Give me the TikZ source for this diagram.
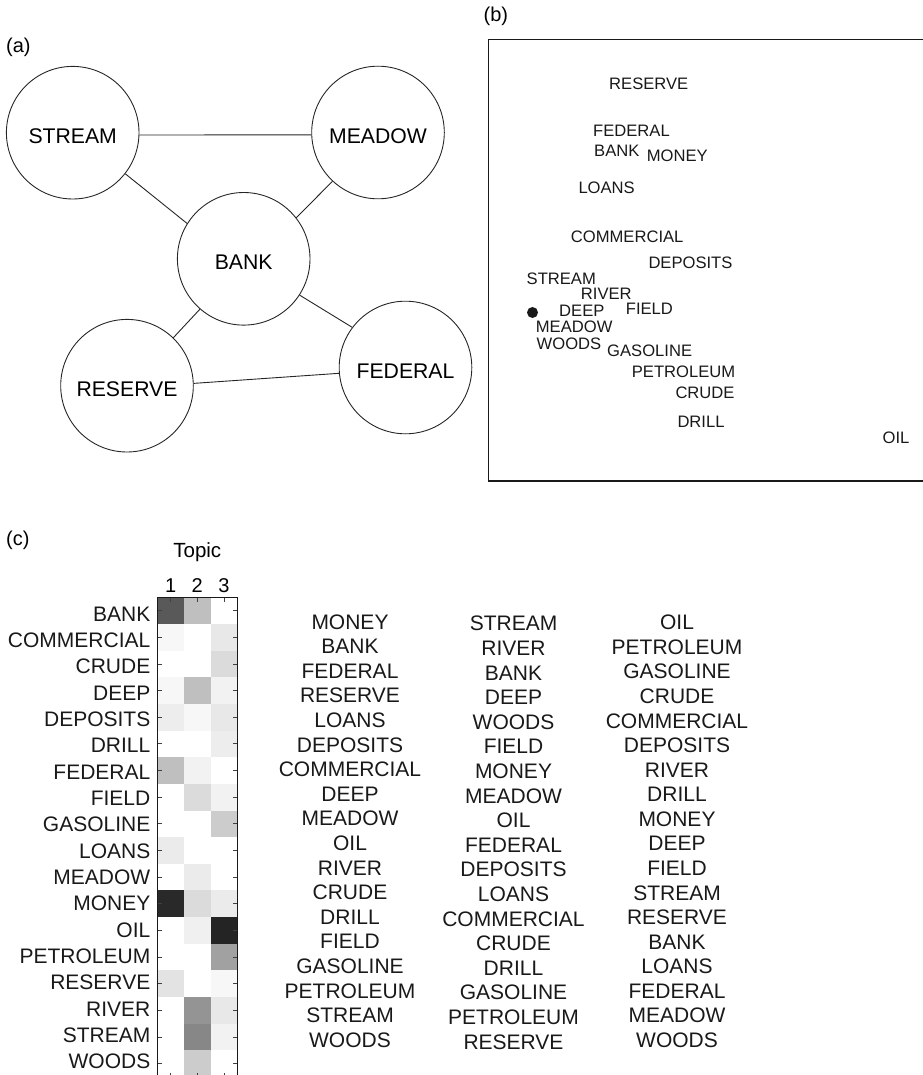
\documentclass[tikz,border=0pt]{standalone}
\usepackage{fontspec}
\setmainfont{Liberation Sans}
\begin{document}
\begin{tikzpicture}[x=1pt,y=-1pt,
  bubble/.style={circle, draw=black!85, line width=0.9pt, minimum size=132.6pt,
    inner sep=0pt, font=\fontsize{21.2}{25}\selectfont, text height=21.8pt, text depth=0pt},
  link/.style={draw=black!85, line width=0.9pt},
  tag/.style={font=\fontsize{20}{24}\selectfont, anchor=base west, inner sep=0pt},
  mapword/.style={font=\fontsize{16.6}{20}\selectfont, anchor=base west, inner sep=0pt, text=black!90},
  rowword/.style={font=\fontsize{21}{25}\selectfont, anchor=base east, inner sep=0pt, text=black!90},
  listword/.style={font=\fontsize{21}{25}\selectfont, anchor=base, inner sep=0pt, text=black!90},
  frame/.style={draw=black!90, line width=1.1pt},
  tick/.style={draw=black!75, line width=0.8pt}
]
\useasboundingbox (0,0) rectangle (922,1075);

% ---------- (a) word association graph ----------
\node[tag] (taga) at (6,52.2) {(a)};
\node[bubble] (stream)  at (72.7,132.7) {STREAM};
\node[bubble] (meadow)  at (378,132.5)  {MEADOW};
\node[bubble] (bank)    at (243.7,258.8) {BANK};
\node[bubble] (reserve) at (127,385.7)  {RESERVE};
\node[bubble] (federal) at (405.5,367.5) {FEDERAL};
\draw[link] (stream.-2)    -- (meadow.182.2);
\draw[link] (stream.-38.3) -- (bank.148.4);
\draw[link] (meadow.227.1) -- (bank.38.4);
\draw[link] (bank.229.1)   -- (reserve.46.6);
\draw[link] (bank.-33)     -- (federal.143.9);
\draw[link] (reserve.2.9)  -- (federal.185);

% ---------- (b) semantic space ----------
\node[tag] (tagb) at (483.5,21.5) {(b)};
\draw[frame] (925,39.3) -- (488.3,39.3) -- (488.3,481) -- (925,481);
\foreach \w/\px/\py [count=\i] in {
  RESERVE/609/89.3, FEDERAL/593/136.3, BANK/594/157, MONEY/646.7/161.3,
  LOANS/578.3/193.2, COMMERCIAL/570.7/243, DEPOSITS/648.3/269,
  STREAM/526.5/284.8, RIVER/580.7/299.3, FIELD/625.7/314.2, DEEP/559/316,
  MEADOW/535.7/332, WOODS/536.5/349.8, GASOLINE/607/356.3,
  PETROLEUM/631.7/377.2, CRUDE/675.3/398, DRILL/677.3/427.2, OIL/882.5/443.5}
  \node[mapword] (sp\i) at (\px,\py) {\w};
\node[circle, fill=black!90, minimum size=11pt, inner sep=0pt] (probe) at (532.5,312.5) {};

% ---------- (c) topic matrix ----------
\node[tag] (tagc) at (6,545.2) {(c)};
\node[font=\fontsize{20.5}{24}\selectfont, anchor=base, inner sep=0pt] (topic) at (197.3,557.5) {Topic};
\foreach \d/\cx in {1/170.6, 2/197.3, 3/223.9}
  \node[font=\fontsize{20}{24}\selectfont, anchor=base, inner sep=0pt] (num\d) at (\cx,592.7) {\d};

\foreach \r/\a/\b/\c [count=\i from 0] in {
  BANK/65/25/0, COMMERCIAL/3/0/9, CRUDE/0/0/14, DEEP/3/25/5, DEPOSITS/7/3/9,
  DRILL/0/0/7, FEDERAL/25/5/0, FIELD/0/14/5, GASOLINE/0/0/20, LOANS/8/0/0,
  MEADOW/0/8/0, MONEY/84/14/8, OIL/0/6/86, PETROLEUM/0/0/37, RESERVE/11/0/3,
  RIVER/0/42/9, STREAM/0/47/5, WOODS/0/20/0} {
  \fill[black!\a] (157.3,{597.3+26.65*\i}) rectangle ++(26.67,26.65);
  \fill[black!\b] (183.97,{597.3+26.65*\i}) rectangle ++(26.67,26.65);
  \fill[black!\c] (210.63,{597.3+26.65*\i}) rectangle ++(26.67,26.65);
  \draw[tick] (157.3,{610.6+26.65*\i}) -- ++(4.5,0);
  \draw[tick] (237.3,{610.6+26.65*\i}) -- ++(-4.5,0);
  \node[rowword] (row\i) at (150.5,{621.3+26.32*\i}) {\r};
}
\foreach \cx in {170.6,197.3,223.9} {
  \draw[tick] (\cx,597.3) -- ++(0,4.5);
  \draw[tick] (\cx,1077) -- ++(0,-4.5);
}
\draw[frame] (157.3,597.3) rectangle (237.3,1077);

% ---------- (c) ranked word lists per topic ----------
\foreach \w [count=\i from 0] in {MONEY,BANK,FEDERAL,RESERVE,LOANS,DEPOSITS,
  COMMERCIAL,DEEP,MEADOW,OIL,RIVER,CRUDE,DRILL,FIELD,GASOLINE,PETROLEUM,STREAM,WOODS}
  \node[listword] (ta\i) at (350,{629.2+24.59*\i}) {\w};
\foreach \w [count=\i from 0] in {STREAM,RIVER,BANK,DEEP,WOODS,FIELD,MONEY,MEADOW,
  OIL,FEDERAL,DEPOSITS,LOANS,COMMERCIAL,CRUDE,DRILL,GASOLINE,PETROLEUM,RESERVE}
  \node[listword] (tb\i) at (513.5,{630.8+24.6*\i}) {\w};
\foreach \w [count=\i from 0] in {OIL,PETROLEUM,GASOLINE,CRUDE,COMMERCIAL,DEPOSITS,
  RIVER,DRILL,MONEY,DEEP,FIELD,STREAM,RESERVE,BANK,LOANS,FEDERAL,MEADOW,WOODS}
  \node[listword] (tc\i) at (677,{629.7+24.58*\i}) {\w};
\end{tikzpicture}
\end{document}
